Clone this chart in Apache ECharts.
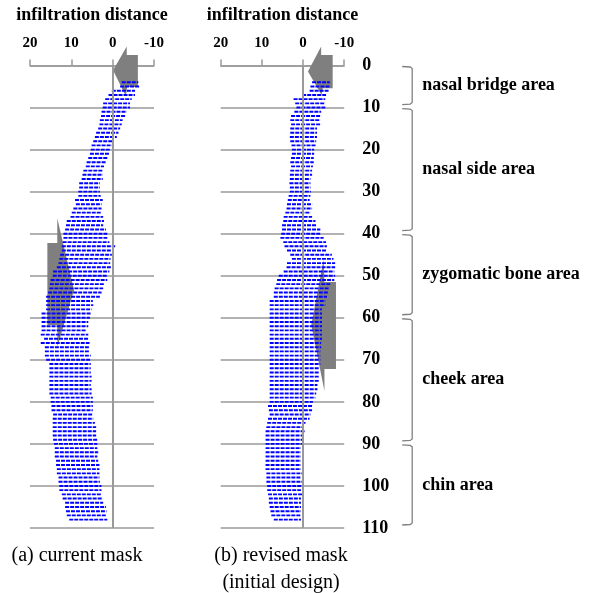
<!DOCTYPE html>
<html><head><meta charset="utf-8">
<script src="https://cdn.jsdelivr.net/npm/echarts@6/dist/echarts.min.js"></script>
<style>html,body{margin:0;padding:0;background:#fff}#c{width:594px;height:593px}</style>
</head><body><div id="c"></div>
<script>
// depth (mm) of each scanned row
const depths = [4,5,6,7,8,9,10,11,12,13,14,15,16,17,18,19,20,21,22,23,24,25,26,27,28,29,30,31,32,33,34,35,36,37,38,39,40,41,42,43,44,45,46,47,48,49,50,51,52,53,54,55,
56,57,58,59,60,61,62,63,64,65,66,67,68,69,70,71,72,73,74,75,76,77,78,79,80,81,82,83,84,85,86,87,88,89,90,91,92,93,94,95,96,97,98,99,100,101,102,103,104,105,106,107,108];

// (a) current mask: outer (left) and inner (right) infiltration distance per row
const currentOuter = [-2.2,-1.8,0.2,1.0,1.8,2.3,2.4,2.7,2.8,3.1,3.2,3.5,4.0,4.3,4.7,5.1,5.3,5.5,5.9,6.3,6.5,7.1,7.3,7.5,8.1,8.1,8.3,8.3,9.1,8.9,9.5,9.9,10.2,11.1,11.3,11.5,11.9,11.9,12.1,12.3,12.3,12.7,12.9,13.1,13.5,14.4,14.5,15.0,15.2,15.3,15.6,16.1,
16.1,16.1,16.1,17.2,17.2,17.2,17.2,17.2,17.4,16.6,17.4,16.4,16.4,16.4,16.1,15.3,15.3,15.3,15.3,15.3,15.3,15.3,15.3,15.0,15.0,14.8,14.8,14.4,14.5,14.5,14.5,14.5,14.5,14.4,14.2,14.0,14.0,14.0,13.7,13.7,13.5,13.5,13.1,13.1,12.9,12.9,12.3,12.1,11.5,11.5,11.3,11.1,10.5];
const currentInner = [-6.2,-6.5,-5.4,-5.4,-4.6,-4.2,-4.2,-3.4,-3.2,-2.4,-2.2,-1.8,-1.4,-1.0,-0.3,0.2,0.5,0.8,1.3,1.6,2.1,2.3,2.4,2.4,3.1,3.1,3.1,2.9,2.4,2.7,2.7,2.7,2.3,2.1,2.3,1.6,1.3,1.3,0.8,-0.6,0.2,0.2,0.5,0.6,0.2,0.8,1.3,1.3,1.9,2.3,2.7,3.1,
4.8,4.7,5.1,5.3,5.5,5.9,5.9,6.3,5.9,5.9,5.6,5.6,5.6,5.3,5.3,5.3,5.3,5.3,5.1,5.1,5.3,5.1,5.1,4.8,4.8,4.8,4.8,4.8,4.7,4.3,4.0,4.0,4.0,3.7,3.7,3.7,3.5,3.7,3.5,3.2,3.2,3.2,3.2,3.1,2.7,2.7,2.7,2.4,2.3,1.6,1.5,1.5,1.3];

// (b) revised mask (initial design)
const revisedOuter = [-2.2,-1.8,-1.6,0.2,2.3,1.9,1.6,2.1,2.9,3.1,2.9,3.1,3.1,3.2,3.1,2.8,2.7,2.7,2.9,3.1,2.9,3.1,3.2,3.2,3.3,3.2,3.2,3.5,3.7,3.9,4.0,4.3,4.7,4.8,5.1,5.1,5.3,5.5,4.8,4.5,3.9,3.1,2.7,3.9,4.0,4.7,5.9,6.3,6.5,6.9,7.1,7.1,
8.1,8.1,8.1,8.1,8.1,8.1,8.1,8.1,8.1,8.1,8.1,8.1,8.1,8.1,8.1,8.1,8.1,8.1,8.1,8.1,8.1,8.1,8.1,8.1,8.1,8.5,8.3,8.1,8.5,8.7,8.9,9.1,9.1,9.1,9.1,9.1,9.1,9.1,9.1,9.1,9.1,8.9,8.9,8.9,8.7,8.7,8.5,8.3,8.3,8.1,7.9,7.7,7.1];
const revisedInner = [-6.5,-6.6,-6.2,-5.6,-5.4,-5.4,-5.4,-4.4,-4.4,-4.2,-4.4,-3.4,-3.4,-3.4,-3.2,-3.2,-2.7,-2.7,-2.6,-2.6,-2.4,-2.2,-2.2,-1.8,-1.8,-1.8,-1.9,-1.8,-1.6,-2.2,-2.2,-1.8,-2.2,-3.0,-3.4,-4.2,-4.4,-5.0,-5.6,-5.8,-5.8,-7.0,-7.4,-7.8,-7.8,-7.6,-7.8,-7.6,-6.6,-6.2,-6.2,-5.8,
-5.4,-5.4,-4.6,-4.6,-4.6,-4.6,-4.6,-4.6,-4.6,-4.6,-4.4,-4.4,-4.2,-4.2,-4.2,-4.2,-4.0,-3.8,-3.8,-3.8,-3.5,-3.5,-3.2,-3.0,-2.4,-2.4,-2.2,-1.8,-1.6,-0.6,-0.2,-0.6,-0.2,-0.2,0.0,0.5,0.5,0.5,0.5,0.5,0.5,0.2,0.5,0.2,0.2,0.5,0.2,0.5,0.5,0.5,0.5,0.5,0.5];

// gray block arrows (pressure points), vertices in [distance, depth]
const arrowCurrentNose  = [[-0.1,1.1],[-3.4,-4.5],[-3.4,-2.5],[-6.1,-2.5],[-6.1,5.1],[-3.5,5.1],[-3.2,7.3]];
const arrowCurrentCheek = [[15.8,42.2],[13.4,42.2],[13.4,36.3],[9.35,53.4],[13.35,66.9],[13.4,61.7],[15.8,61.7]];
const arrowRevisedNose  = [[-1.2,1.4],[-4.4,-4.5],[-4.4,-2.5],[-7.2,-2.5],[-7.2,5.4],[-4.8,5.4],[-4.5,7.0]];
const arrowRevisedCheek = [[-8.0,51.5],[-5.2,51.5],[-5.0,46.2],[-2.0,61.7],[-5.2,77.4],[-5.2,72.2],[-8.0,72.2]];

// facial regions along the depth axis
const regionNames = ['nasal bridge area','nasal side area','zygomatic bone area','cheek area','chin area'];
const regionStart = [0,10,40,60,90];
const regionEnd   = [10,40,60,90,110];

const xTickLabels = ['20','10','0','-10'];
const panelCaptions = ['(a) current mask','(b) revised mask','(initial design)'];

const SERIF = '"Liberation Serif","Times New Roman",serif';
const GRAY = '#999999';
const chart = echarts.init(document.getElementById('c'));

function rowSeries(idx, outer, inner) {
  return {
    type: 'custom', xAxisIndex: idx, yAxisIndex: idx, clip: false, z: 3,
    data: depths.map((d, i) => [outer[i], inner[i], d]),
    encode: { x: [0, 1], y: 2 },
    renderItem(params, api) {
      const y = api.value(2);
      const p1 = api.coord([api.value(0), y]);
      const p2 = api.coord([api.value(1), y]);
      return { type: 'line', shape: { x1: p1[0], y1: p1[1], x2: p2[0], y2: p2[1] },
        style: { stroke: '#0000ff', lineWidth: 1.9, lineDash: [4, 1] } };
    },
    markLine: { silent: true, symbol: 'none', label: { show: false },
      lineStyle: { color: GRAY, width: 2, type: 'solid' }, data: [{ xAxis: 0 }] }
  };
}
function arrowSeries(idx, pts) {
  return {
    type: 'custom', xAxisIndex: idx, yAxisIndex: idx, clip: false, z: 2,
    data: pts, encode: { x: 0, y: 1 },
    renderItem(params, api) {
      if (params.dataIndex !== 0) return null;
      return { type: 'polygon', shape: { points: pts.map(p => api.coord(p)) },
        style: { fill: '#7f7f7f', stroke: null } };
    }
  };
}
const regionSeries = {
  type: 'custom', xAxisIndex: 1, yAxisIndex: 1, clip: false, z: 4,
  data: regionStart.map((s, i) => [0, s, regionEnd[i]]),
  encode: { y: [1, 2] },
  renderItem(params, api) {
    const cs = params.coordSys;
    const xr = cs.x + cs.width;
    const y0 = api.coord([0, api.value(1)])[1] + 1;
    const y1 = api.coord([0, api.value(2)])[1] - 3;
    const a = xr + 58, b = xr + 68;
    return { type: 'group', children: [
      { type: 'polyline', shape: { points: [[a, y0], [b - 2, y0 + 0.5], [b, y0 + 2], [b, y1 - 2], [b - 2, y1 - 0.5], [a, y1]] },
        style: { stroke: '#808080', lineWidth: 1.3, fill: null } },
      { type: 'text', style: { text: regionNames[params.dataIndex], x: xr + 78, y: (y0 + y1) / 2,
          verticalAlign: 'middle', align: 'left', font: 'bold 18px ' + SERIF, fill: '#000' } }
    ] };
  }
};

function xAxisCfg(i) {
  return {
    gridIndex: i, type: 'value', min: -10, max: 20, interval: 10, inverse: true, position: 'top',
    name: 'infiltration distance', nameLocation: 'middle', nameGap: 41,
    nameTextStyle: { fontFamily: SERIF, fontWeight: 'bold', fontSize: 18, color: '#000' },
    axisLine: { show: true, onZero: false, lineStyle: { color: GRAY, width: 1.5 } },
    axisTick: { show: true, length: 6, lineStyle: { color: GRAY, width: 1.5 } },
    axisLabel: { fontFamily: SERIF, fontWeight: 'bold', fontSize: 15, color: '#000', margin: 15,
      formatter: v => xTickLabels[[20, 10, 0, -10].indexOf(v)] },
    splitLine: { show: false }
  };
}
function yAxisCfg(i) {
  return {
    gridIndex: i, type: 'value', min: 0, max: 110, interval: 10, inverse: true,
    position: 'right',
    axisLine: { show: false }, axisTick: { show: false },
    axisLabel: { show: i === 1, margin: 18, align: 'left', fontFamily: SERIF, fontWeight: 'bold', fontSize: 18, color: '#000' },
    splitLine: { show: true, lineStyle: { color: GRAY, width: 1.5 } }
  };
}

chart.setOption({
  animation: false,
  backgroundColor: '#fff',
  grid: [
    { left: 30, top: 65.5, width: 124, height: 462.5 },
    { left: 220.7, top: 65.5, width: 123.5, height: 462.5 }
  ],
  xAxis: [xAxisCfg(0), xAxisCfg(1)],
  yAxis: [yAxisCfg(0), yAxisCfg(1)],
  series: [
    arrowSeries(0, arrowCurrentNose), arrowSeries(0, arrowCurrentCheek),
    arrowSeries(1, arrowRevisedNose), arrowSeries(1, arrowRevisedCheek),
    rowSeries(0, currentOuter, currentInner),
    rowSeries(1, revisedOuter, revisedInner),
    regionSeries
  ],
  graphic: [
    { type: 'text', x: 77, y: 556, style: { text: panelCaptions[0], align: 'center', verticalAlign: 'middle', font: '20px ' + SERIF, fill: '#000' } },
    { type: 'text', x: 281, y: 556, style: { text: panelCaptions[1], align: 'center', verticalAlign: 'middle', font: '20px ' + SERIF, fill: '#000' } },
    { type: 'text', x: 281, y: 583, style: { text: panelCaptions[2], align: 'center', verticalAlign: 'middle', font: '20px ' + SERIF, fill: '#000' } }
  ]
});
</script></body></html>
